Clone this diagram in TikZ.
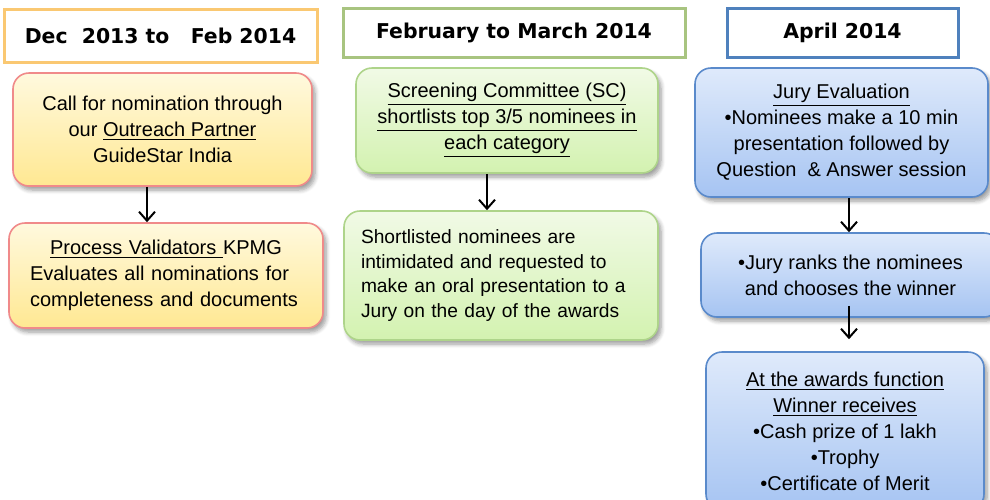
\documentclass[tikz,border=0pt]{standalone}
\usepackage{fontspec}
\setmainfont{Liberation Sans}
\newfontfamily\headfont{DejaVu Sans}
\usetikzlibrary{arrows.meta,shadows.blur}
\definecolor{ylwline}{HTML}{F08A8A}
\definecolor{ylwtop}{HTML}{FFF9DE}
\definecolor{ylwbot}{HTML}{FFE892}
\definecolor{grnline}{HTML}{AED48A}
\definecolor{grntop}{HTML}{F1FAE6}
\definecolor{grnbot}{HTML}{D3F2B0}
\definecolor{bluline}{HTML}{5A8ACB}
\definecolor{blutop}{HTML}{DFEAFB}
\definecolor{blubot}{HTML}{A6C4F2}
\definecolor{hdorange}{HTML}{FAC872}
\definecolor{hdgreen}{HTML}{A8C480}
\definecolor{hdblue}{HTML}{4F81BD}
\tikzset{
    every node/.style={inner sep=0pt, font=\fontsize{10}{13}\selectfont},
    >={Straight Barb[length=4.5pt, width=8pt]}
}
\tikzset{
    headbox/.style={rectangle, draw, line width=1.5pt, fill=white,
        font=\headfont\bfseries\fontsize{10.2}{12}\selectfont},
    stepbox/.style={rectangle, draw, line width=0.8pt, rounded corners=8pt, align=center,
        blur shadow={shadow xshift=1.5pt, shadow yshift=-2pt, shadow blur steps=6, shadow opacity=40}},
    ylwbox/.style={stepbox, draw=ylwline, top color=ylwtop, bottom color=ylwbot},
    grnbox/.style={stepbox, draw=grnline, top color=grntop, bottom color=grnbot},
    blubox/.style={stepbox, draw=bluline, top color=blutop, bottom color=blubot},
    flow/.style={->, line width=1pt, black}
}

\begin{document}
\begin{tikzpicture}[x=0.5pt, y=-0.5pt]
    \useasboundingbox (0,0) rectangle (990,499);

    \node (h1) at (160.5,35.5) [headbox, draw=hdorange, minimum width=156.5pt, minimum height=26.5pt] {Dec\ \ 2013 to\ \ \ Feb 2014};
    \node (h2) at (514,32.5) [headbox, draw=hdgreen, minimum width=171pt, minimum height=24.5pt] {February to March 2014};
    \node (h3) at (842.5,32.5) [headbox, draw=hdblue, minimum width=115.5pt, minimum height=24.5pt] {April 2014};

    \node (y1) at (162.5,129.5) [ylwbox, minimum width=149.5pt, minimum height=56.5pt]
        {Call for nomination through\\ our \underline{Outreach Partner}\\ GuideStar India};
    \node (y2) at (166,275.5) [ylwbox, minimum width=157pt, minimum height=52.5pt, text width=136pt, align=left]
        {\makebox[\hsize]{\underline{Process Validators }KPMG}\\ Evaluates all nominations for\\ completeness and documents};

    \node (g1) at (507,120.5) [grnbox, minimum width=151pt, minimum height=52.5pt]
        {\underline{Screening Committee (SC)}\\ \underline{shortlists top 3/5 nominees in}\\ \underline{each category}};
    \node (g2) at (501,275.5) [grnbox, minimum width=157pt, minimum height=64.5pt, text width=140pt, align=left,
        font=\fontsize{9.6}{12.4}\selectfont]
        {Shortlisted nominees are\\ intimidated and requested to\\ make an oral presentation to a\\ Jury on the day of the awards};

    \node (b1) at (841.5,132.5) [blubox, minimum width=146.5pt, minimum height=64.5pt]
        {\underline{Jury Evaluation}\\ •Nominees make a 10 min\\ presentation followed by\\ Question\ \ \& Answer session};
    \node (b2) at (850.5,275) [blubox, minimum width=149.5pt, minimum height=42pt]
        {•Jury ranks the nominees\\ and chooses the winner};
    \node (b3) at (845,431) [blubox, minimum width=139pt, minimum height=79pt]
        {\underline{At the awards function}\\ \underline{Winner receives}\\ •Cash prize of 1 lakh\\ •Trophy\\ •Certificate of Merit};

    \draw[flow] ([xshift=-7.75pt]y1.south) -- ([xshift=-7.75pt]y1.south |- y2.north);
    \draw[flow] ([xshift=-10pt]g1.south) -- ([xshift=-10pt]g1.south |- g2.north);
    \draw[flow] ([xshift=3.75pt]b1.south) -- ([xshift=3.75pt]b1.south |- b2.north);
    \draw[flow] ([xshift=-0.75pt, yshift=6pt]b2.south) -- ([xshift=-0.75pt, yshift=6pt]b2.south |- b3.north);
\end{tikzpicture}
\end{document}
